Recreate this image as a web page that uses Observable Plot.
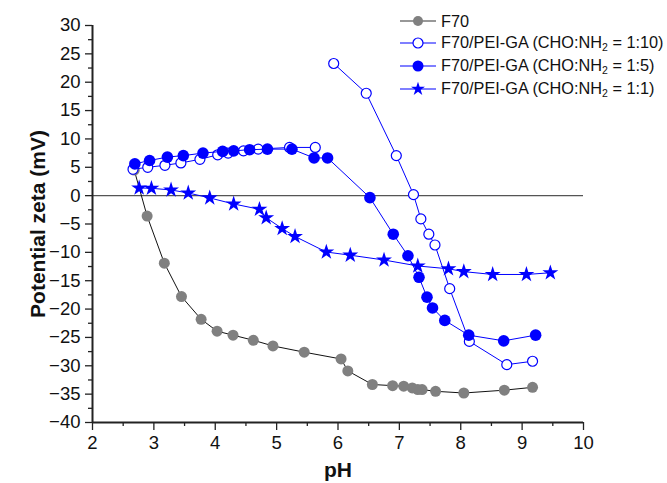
<!DOCTYPE html>
<html>
<head>
<meta charset="utf-8">
<script src="https://cdn.jsdelivr.net/npm/d3@7"></script>
<script src="https://cdn.jsdelivr.net/npm/@observablehq/plot@0.6"></script>
<style>
  html, body { margin: 0; padding: 0; background: #fff; }
  #wrap { position: relative; width: 667px; height: 483px; font-family: "Liberation Sans", Arial, sans-serif; }
  #chart svg { display: block; }
  g[aria-label="y-axis label"] text, g[aria-label="x-axis label"] text { font-weight: bold; font-size: 21px; }
  #legend { position: absolute; left: 399px; top: 10px; font-size: 16.3px; color: #111; }
  .item { position: absolute; left: 0; height: 22px; display: flex; align-items: center; white-space: nowrap; }
  .item svg { margin-right: 4px; }
  sub { font-size: 10.5px; vertical-align: -3px; }
</style>
</head>
<body>
<div id="wrap">
  <div id="chart"></div>
  <div id="legend"></div>
</div>
<script>
// ---- data ----
const seriesNames = ["F70", "F70/PEI-GA (CHO:NH2 = 1:10)", "F70/PEI-GA (CHO:NH2 = 1:5)", "F70/PEI-GA (CHO:NH2 = 1:1)"];

const pH_F70   = [2.68, 2.89, 3.17, 3.45, 3.77, 4.03, 4.29, 4.62, 4.94, 5.45, 6.05, 6.16, 6.56, 6.89, 7.07, 7.21, 7.30, 7.37, 7.59, 8.05, 8.71, 9.17];
const zeta_F70 = [4.5, -3.6, -11.9, -17.8, -21.8, -23.9, -24.6, -25.5, -26.5, -27.6, -28.8, -30.9, -33.3, -33.5, -33.6, -33.9, -34.2, -34.2, -34.5, -34.8, -34.3, -33.8];

// 1:10 was measured in two runs (acid branch and base branch), drawn as two unjoined segments
const pH_1_10   = [2.66, 2.90, 3.18, 3.44, 3.75, 4.04, 4.21, 4.46, 4.70, 5.21, 5.63, 5.93, 6.46, 6.95, 7.23, 7.35, 7.48, 7.58, 7.82, 8.14, 8.75, 9.17];
const zeta_1_10 = [4.65, 5.0, 5.35, 5.77, 6.4, 7.2, 7.5, 7.9, 8.2, 8.5, 8.5, 23.3, 18.05, 7.06, 0.18, -4.1, -6.8, -8.7, -16.4, -25.7, -29.8, -29.2];
const run_1_10  = ["a", "a", "a", "a", "a", "a", "a", "a", "a", "a", "a", "b", "b", "b", "b", "b", "b", "b", "b", "b", "b", "b"];

const pH_1_5   = [2.69, 2.93, 3.22, 3.48, 3.80, 4.12, 4.30, 4.56, 4.85, 5.25, 5.61, 5.83, 6.52, 6.90, 7.14, 7.32, 7.45, 7.54, 7.74, 8.13, 8.70, 9.22];
const zeta_1_5 = [5.6, 6.2, 6.8, 7.06, 7.5, 7.8, 7.9, 8.1, 8.2, 8.2, 6.65, 6.65, -0.35, -6.8, -10.6, -14.4, -17.9, -19.8, -22.0, -24.6, -25.6, -24.6];

const pH_1_1   = [2.76, 2.96, 3.28, 3.56, 3.91, 4.30, 4.72, 4.83, 5.09, 5.30, 5.81, 6.20, 6.75, 7.30, 7.80, 8.05, 8.52, 9.07, 9.46];
const zeta_1_1 = [1.35, 1.3, 1.0, 0.47, -0.4, -1.47, -2.4, -3.9, -5.8, -7.2, -9.94, -10.5, -11.35, -12.4, -12.9, -13.4, -13.9, -13.9, -13.6];

const xTicks = [2, 3, 4, 5, 6, 7, 8, 9, 10];
const xMinor = [2.5, 3.5, 4.5, 5.5, 6.5, 7.5, 8.5, 9.5];
const yTicks = [-40, -35, -30, -25, -20, -15, -10, -5, 0, 5, 10, 15, 20, 25, 30];
const yMinor = [-37.5, -32.5, -27.5, -22.5, -17.5, -12.5, -7.5, -2.5, 2.5, 7.5, 12.5, 17.5, 22.5, 27.5];

const toRows = (xs, ys, runs) => xs.map((x, i) => ({pH: x, zeta: ys[i], run: runs ? runs[i] : "a"}));
const dF70 = toRows(pH_F70, zeta_F70);
const d10 = toRows(pH_1_10, zeta_1_10, run_1_10);
const d5 = toRows(pH_1_5, zeta_1_5);
const d1 = toRows(pH_1_1, zeta_1_1);

const BLUE = "#0000ff", GRAY = "#808080";
const TICKFONT = 18.5;

const chart = Plot.plot({
  width: 667,
  height: 483,
  marginLeft: 92,
  marginRight: 84,
  marginTop: 25,
  marginBottom: 61,
  style: {fontFamily: "'Liberation Sans', Arial, sans-serif", fontSize: "18px", color: "#111", background: "#fff"},
  x: {domain: [2, 10]},
  y: {domain: [-40, 30]},
  marks: [
    Plot.ruleY([0], {stroke: "#555", strokeWidth: 1.3}),
    Plot.axisX(xMinor, {tickSize: 4, tickFormat: () => "", label: null, stroke: "#222", strokeWidth: 1.3}),
    Plot.axisY(yMinor, {tickSize: 4, tickFormat: () => "", label: null, stroke: "#222", strokeWidth: 1.3}),
    Plot.axisX(xTicks, {tickSize: 8, tickPadding: 5, fontSize: TICKFONT, label: "pH", labelAnchor: "center", labelOffset: 54, labelArrow: "none", stroke: "#222", strokeWidth: 1.3}),
    Plot.axisY(yTicks, {tickSize: 7, tickPadding: 5, fontSize: TICKFONT, label: "Potential zeta (mV)", labelAnchor: "center", labelOffset: 62, labelArrow: "none", stroke: "#222", strokeWidth: 1.3}),
    Plot.ruleX([2], {stroke: "#222", strokeWidth: 2}),
    Plot.ruleY([-40], {stroke: "#222", strokeWidth: 2}),
    Plot.line(dF70, {x: "pH", y: "zeta", stroke: "#111", strokeWidth: 1}),
    Plot.dot(dF70, {x: "pH", y: "zeta", r: 5.5, fill: GRAY, stroke: "none"}),
    Plot.line(d10, {x: "pH", y: "zeta", z: "run", stroke: BLUE, strokeWidth: 1}),
    Plot.dot(d10, {x: "pH", y: "zeta", r: 5, fill: "#fff", stroke: BLUE, strokeWidth: 1.2}),
    Plot.line(d5, {x: "pH", y: "zeta", stroke: BLUE, strokeWidth: 1}),
    Plot.dot(d5, {x: "pH", y: "zeta", r: 5.8, fill: BLUE, stroke: "none"}),
    Plot.line(d1, {x: "pH", y: "zeta", stroke: BLUE, strokeWidth: 1}),
    Plot.dot(d1, {x: "pH", y: "zeta", r: 5, symbol: "star", fill: BLUE, stroke: "none"})
  ]
});
document.getElementById("chart").appendChild(chart);

// ---- legend ----
const legendSpec = [
  {label: "F70", line: "#333", marker: "gray"},
  {label: "F70/PEI-GA (CHO:NH<sub>2</sub> = 1:10)", line: BLUE, marker: "open"},
  {label: "F70/PEI-GA (CHO:NH<sub>2</sub> = 1:5)", line: BLUE, marker: "filled"},
  {label: "F70/PEI-GA (CHO:NH<sub>2</sub> = 1:1)", line: BLUE, marker: "star"}
];
const tops = [0, 22, 45, 68];
const legend = document.getElementById("legend");
legendSpec.forEach((s, i) => {
  const div = document.createElement("div");
  div.className = "item";
  div.style.top = tops[i] + "px";
  let m;
  if (s.marker === "gray") m = `<circle cx="19" cy="11" r="5" fill="${GRAY}"/>`;
  else if (s.marker === "open") m = `<circle cx="19" cy="11" r="5" fill="#fff" stroke="${BLUE}" stroke-width="1.2"/>`;
  else if (s.marker === "filled") m = `<circle cx="19" cy="11" r="5.5" fill="${BLUE}"/>`;
  else {
    const p = d3.symbol(d3.symbolStar, 60)();
    m = `<path transform="translate(19,11)" d="${p}" fill="${BLUE}"/>`;
  }
  div.innerHTML = `<svg width="38" height="22"><line x1="1" x2="37" y1="11" y2="11" stroke="${s.line}" stroke-width="1.2"/>${m}</svg><span>${s.label}</span>`;
  legend.appendChild(div);
});
</script>
</body>
</html>
